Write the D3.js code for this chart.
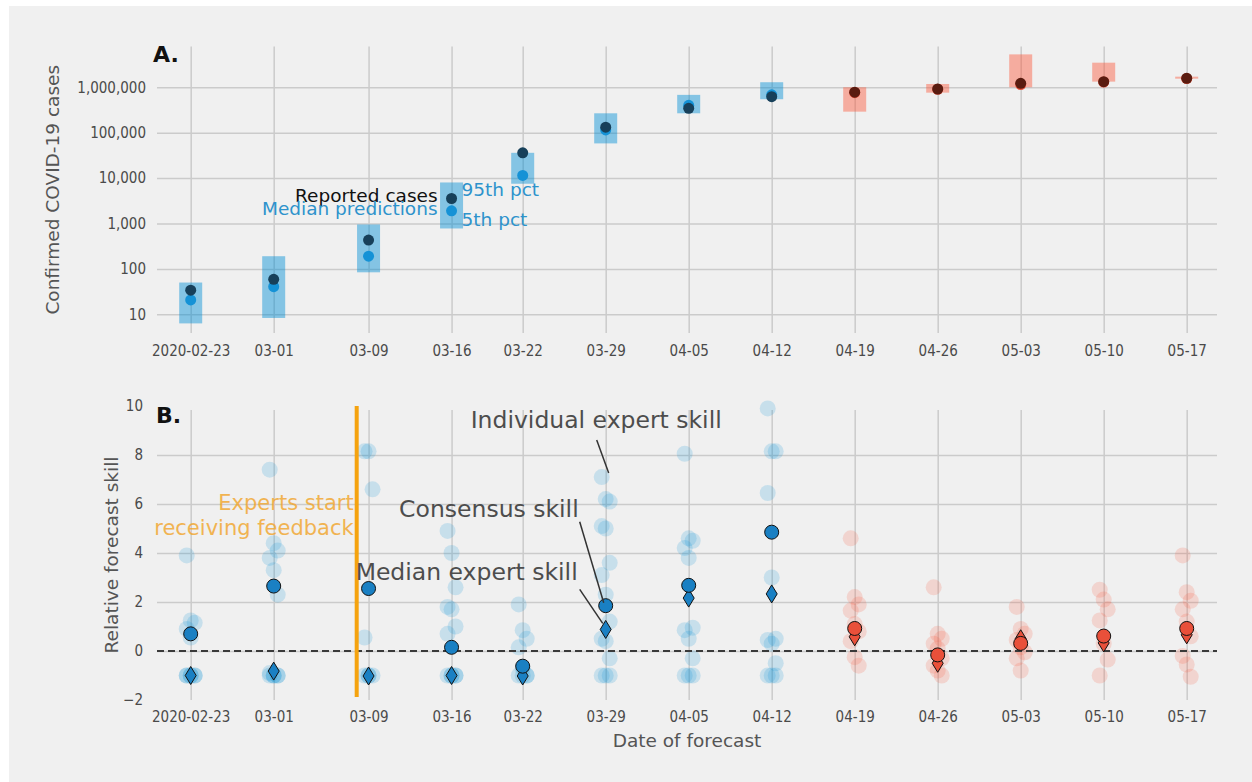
<!DOCTYPE html>
<html>
<head>
<meta charset="utf-8">
<script src="https://cdn.jsdelivr.net/npm/d3@7"></script>
<style>
  body { margin: 0; background: #ffffff; }
  svg { display: block; font-family: "DejaVu Sans", sans-serif; }
  .tick text { font-family: "DejaVu Sans Condensed", "DejaVu Sans", sans-serif; font-stretch: condensed; font-size: 15px; fill: #4a4a4a; }
</style>
</head>
<body>
<svg id="chart" width="1252" height="782"></svg>
<script>
// ---- forecast dates and labels ----
const dates = ["2020-02-23", "2020-03-01", "2020-03-09", "2020-03-16", "2020-03-22", "2020-03-29",
               "2020-04-05", "2020-04-12", "2020-04-19", "2020-04-26", "2020-05-03", "2020-05-10", "2020-05-17"];
const tickLabels = ["2020-02-23", "03-01", "03-09", "03-16", "03-22", "03-29",
                    "04-05", "04-12", "04-19", "04-26", "05-03", "05-10", "05-17"];
const period = ["early", "early", "early", "early", "early", "early", "early", "early",
                "late", "late", "late", "late", "late"];
const feedbackStart = "2020-03-08";

// ---- panel A: confirmed cases ----
const reported = [34, 59, 430, 3550, 36000, 132000, 344000, 620000, 777000, 916000, 1220000, 1330000, 1580000];
const medianPred = [20.7, 40.6, 190, 1900, 11400, 115000, 400000, 680000, 760000, 900000, 1150000, 1300000, 1550000];
const pct5 = [6.3, 8.3, 84, 776, 7500, 58000, 267000, 545000, 290000, 760000, 1000000, 1330000, 1550000];
const pct95 = [50, 190, 950, 8000, 36000, 267000, 680000, 1290000, 1000000, 1180000, 5300000, 3480000, 1710000];
const caseTicks = [10, 100, 1000, 10000, 100000, 1000000];

// ---- panel B: relative forecast skill ----
const consensusSkill = [0.7, 2.65, 2.55, 0.15, -0.62, 1.85, 2.68, 4.85, 0.92, -0.16, 0.31, 0.61, 0.92];
const medianExpertSkill = [-1.0, -0.82, -1.02, -1.0, -1.02, 0.88, 2.16, 2.33, 0.58, -0.5, 0.5, 0.33, 0.66];
const expertSkill = [
  [3.9, 1.25, 1.15, 0.9, 0.55, -1, -1, -1, -1, -1, -1],
  [7.4, 4.4, 4.1, 3.8, 3.3, 2.3, -0.9, -1, -1, -1, -1, -1],
  [8.15, 8.15, 6.6, 0.55, -1, -1, -1, -1],
  [4.9, 4.0, 2.6, 1.8, 1.7, 1.0, 0.7, -1, -1, -1, -1, -1],
  [1.9, 0.85, 0.5, 0.15, -0.7, -1, -1, -1, -1],
  [7.1, 6.2, 6.1, 5.1, 5.0, 3.6, 3.1, 2.3, 1.2, 0.5, 0.4, -0.3, -1, -1, -1],
  [8.05, 4.6, 4.5, 4.2, 3.8, 0.95, 0.85, 0.5, -0.3, -1, -1, -1],
  [9.9, 8.15, 8.15, 6.45, 3.0, 0.5, 0.45, 0.3, -0.5, -1, -1, -1],
  [4.6, 2.2, 1.9, 1.65, 1.1, 0.8, 0.4, -0.25, -0.6],
  [2.6, 0.7, 0.5, 0.3, 0.1, -0.3, -0.6, -0.8, -1.0],
  [1.8, 0.9, 0.7, 0.45, 0.15, -0.05, -0.3, -0.8],
  [2.5, 2.1, 1.7, 1.25, 0.3, -0.35, -1.0],
  [3.9, 2.4, 2.05, 1.7, 1.2, 0.6, -0.2, -0.55, -1.05]
];
const skillTicks = [-2, 0, 2, 4, 6, 8, 10];

// ---- layout and styles ----
const W = 1252, H = 782;
const plotL = 157, plotR = 1217;
const A = { top: 46.5, bottom: 333 };
const B = { top: 406, bottom: 700 };
const BG = "#f0f0f0", GRID = "#cbcbcb";
const palette = {
  early: { box: "rgba(0,143,213,0.45)", median: "#1592d6", rep: "#17405a", dot: "#1a80c3", faint: "rgba(0,143,213,0.17)" },
  late:  { box: "rgba(252,79,48,0.42)", median: "#e9503a", rep: "#5a1c10", dot: "#e9503a", faint: "rgba(252,79,48,0.17)" }
};

const parse = d3.timeParse("%Y-%m-%d");
const dateObjs = dates.map(parse);

const svg = d3.select("#chart");
svg.append("rect").attr("x", 9).attr("y", 6).attr("width", W - 9).attr("height", H - 6).attr("fill", BG);

const x = d3.scaleTime().domain([dateObjs[0], dateObjs[dateObjs.length - 1]]).range([190.7, 1186.7]);
const yA = d3.scaleLog().domain([3.87, 7.9e6]).range([A.bottom, A.top]);
const yB = d3.scaleLinear().domain([-2, 10]).range([B.bottom, B.top]);

function styleAxis(g) {
  g.select(".domain").remove();
  g.selectAll(".tick line").attr("stroke", GRID).attr("stroke-width", 1.5);
}

// ================= Panel A =================
const gA = svg.append("g");
gA.append("g")
  .attr("transform", `translate(0,${A.bottom})`)
  .call(d3.axisBottom(x).tickValues(dateObjs).tickFormat((d, i) => tickLabels[i])
        .tickSize(-(A.bottom - A.top)).tickPadding(12))
  .call(styleAxis);
gA.append("g")
  .attr("transform", `translate(${plotL},0)`)
  .call(d3.axisLeft(yA).tickValues(caseTicks).tickFormat(d3.format(","))
        .tickSize(-(plotR - plotL)).tickPadding(11))
  .call(styleAxis);

const halfBox = 11.5;
gA.append("g").selectAll("rect").data(dates).join("rect")
  .attr("x", (d, i) => x(dateObjs[i]) - halfBox)
  .attr("width", halfBox * 2)
  .attr("y", (d, i) => yA(pct95[i]))
  .attr("height", (d, i) => Math.max(2, yA(pct5[i]) - yA(pct95[i])))
  .attr("fill", (d, i) => palette[period[i]].box);

gA.append("g").selectAll("circle").data(dates).join("circle")
  .attr("cx", (d, i) => x(dateObjs[i]))
  .attr("cy", (d, i) => yA(medianPred[i]))
  .attr("r", 5.5)
  .attr("fill", (d, i) => palette[period[i]].median);

gA.append("g").selectAll("circle").data(dates).join("circle")
  .attr("cx", (d, i) => x(dateObjs[i]))
  .attr("cy", (d, i) => yA(reported[i]))
  .attr("r", 5.5)
  .attr("fill", (d, i) => palette[period[i]].rep);

// legend-style labels beside the 03-16 forecast
const k = 3, xk = x(dateObjs[k]);
const annA = gA.append("g").attr("font-size", "18.5px");
annA.append("text").attr("x", xk - 14).attr("y", yA(reported[k]) + 4)
  .attr("text-anchor", "end").attr("fill", "#111").text("Reported cases");
annA.append("text").attr("x", xk - 14).attr("y", yA(medianPred[k]) + 4)
  .attr("text-anchor", "end").attr("fill", "#2e93cc").text("Median predictions");
annA.append("text").attr("x", xk + 10).attr("y", yA(pct95[k]) + 14)
  .attr("fill", "#2e93cc").text("95th pct");
annA.append("text").attr("x", xk + 10).attr("y", yA(pct5[k]) - 2)
  .attr("fill", "#2e93cc").text("5th pct");

gA.append("text").attr("x", 153).attr("y", 62).attr("font-size", "22px").attr("font-weight", "bold")
  .attr("fill", "#111").text("A.");
gA.append("text").attr("transform", `translate(59,${(A.top + A.bottom) / 2}) rotate(-90)`)
  .attr("text-anchor", "middle").attr("font-size", "18.5px").attr("fill", "#555")
  .text("Confirmed COVID-19 cases");

// ================= Panel B =================
const gB = svg.append("g");
gB.append("g")
  .attr("transform", `translate(0,${B.bottom})`)
  .call(d3.axisBottom(x).tickValues(dateObjs).tickFormat((d, i) => tickLabels[i])
        .tickSize(-(B.bottom - B.top) + 4).tickPadding(11))
  .call(styleAxis);
gB.append("g")
  .attr("transform", `translate(${plotL},0)`)
  .call(d3.axisLeft(yB).tickValues(skillTicks).tickFormat(d3.format("d"))
        .tickSize(-(plotR - plotL)).tickPadding(14))
  .call(styleAxis)
  .call(g => g.selectAll(".tick line").filter(d => d === -2 || d === 10).remove());

// feedback marker text
const xf = x(parse(feedbackStart));
const fb = gB.append("g").attr("font-size", "21px").attr("fill", "#f2a52a").attr("opacity", 0.8)
  .attr("text-anchor", "end");
fb.append("text").attr("x", xf - 3).attr("y", 510).text("Experts start");
fb.append("text").attr("x", xf - 3).attr("y", 535).text("receiving feedback");

// individual expert skill
const jitter = j => ((j % 3) - 1) * 4;
expertSkill.forEach((vals, i) => {
  gB.append("g").selectAll("circle").data(vals).join("circle")
    .attr("cx", (v, j) => x(dateObjs[i]) + jitter(j))
    .attr("cy", v => yB(v))
    .attr("r", 8)
    .attr("fill", palette[period[i]].faint);
});

// zero reference line
gB.append("line").attr("x1", plotL).attr("x2", plotR).attr("y1", yB(0)).attr("y2", yB(0))
  .attr("stroke", "#3a3a3a").attr("stroke-width", 2).attr("stroke-dasharray", "7,4");

// feedback start line
gB.append("line").attr("x1", xf).attr("x2", xf).attr("y1", yB(10)).attr("y2", B.bottom - 3)
  .attr("stroke", "#f5a30f").attr("stroke-width", 4);

// median expert skill (thin diamonds)
gB.append("g").selectAll("path").data(medianExpertSkill).join("path")
  .attr("transform", (v, i) => `translate(${x(dateObjs[i])},${yB(v)})`)
  .attr("d", "M0,-9L5.5,0L0,9L-5.5,0Z")
  .attr("fill", (v, i) => palette[period[i]].dot)
  .attr("stroke", "#111").attr("stroke-width", 1);

// consensus skill
gB.append("g").selectAll("circle").data(consensusSkill).join("circle")
  .attr("cx", (v, i) => x(dateObjs[i]))
  .attr("cy", v => yB(v))
  .attr("r", 7)
  .attr("fill", (v, i) => palette[period[i]].dot)
  .attr("stroke", "#111").attr("stroke-width", 1);

// annotations pointing at the 03-29 forecast
const m = 5, xm = x(dateObjs[m]);
const yInd = yB(expertSkill[m][0]), yCon = yB(consensusSkill[m]), yMed = yB(medianExpertSkill[m]);
const annB = gB.append("g").attr("font-size", "23.5px").attr("fill", "#4d4d4d");
annB.append("text").attr("x", xm - 9.5).attr("y", yInd - 49).attr("text-anchor", "middle").text("Individual expert skill");
annB.append("text").attr("x", xm - 27).attr("y", yCon - 89).attr("text-anchor", "end").text("Consensus skill");
annB.append("text").attr("x", xm - 28).attr("y", yMed - 49).attr("text-anchor", "end").text("Median expert skill");
const arrows = [
  [xm - 9, yInd - 37, xm + 3, yInd - 4],
  [xm - 26, yCon - 84, xm - 2, yCon - 3],
  [xm - 26, yMed - 40, xm - 3, yMed - 6]
];
gB.append("g").selectAll("line").data(arrows).join("line")
  .attr("x1", d => d[0]).attr("y1", d => d[1]).attr("x2", d => d[2]).attr("y2", d => d[3])
  .attr("stroke", "#333").attr("stroke-width", 1.5);

gB.append("text").attr("x", 156).attr("y", 423).attr("font-size", "22px").attr("font-weight", "bold")
  .attr("fill", "#111").text("B.");
gB.append("text").attr("transform", `translate(118,${(B.top + B.bottom) / 2 + 2}) rotate(-90)`)
  .attr("text-anchor", "middle").attr("font-size", "18.5px").attr("fill", "#555")
  .text("Relative forecast skill");
gB.append("text").attr("x", (plotL + plotR) / 2).attr("y", 747)
  .attr("text-anchor", "middle").attr("font-size", "18.5px").attr("fill", "#555")
  .text("Date of forecast");
</script>
</body>
</html>
